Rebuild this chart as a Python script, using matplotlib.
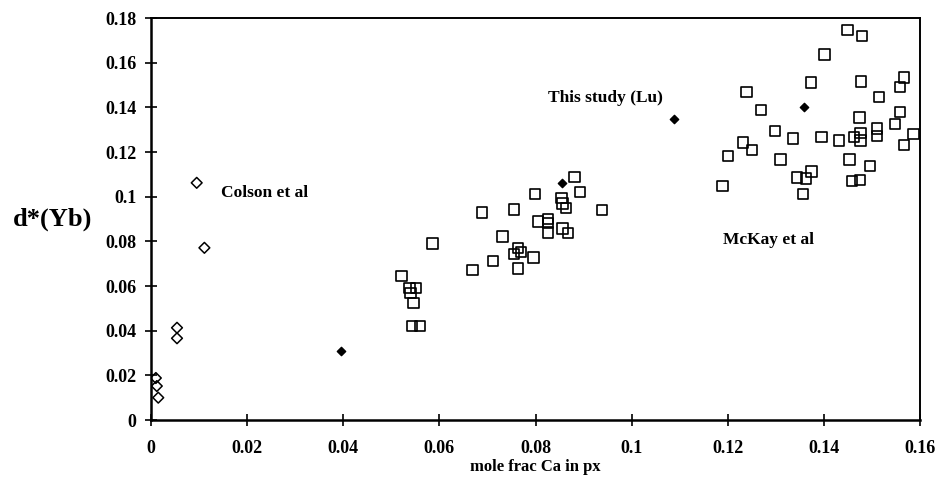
import matplotlib
matplotlib.use("Agg")
import matplotlib.pyplot as plt

# Colson et al (open diamonds)
colson_x = [0.0010, 0.0012, 0.0015, 0.0054, 0.0054, 0.0111, 0.0095]
colson_y = [0.0188, 0.0152, 0.0100, 0.0413, 0.0366, 0.0771, 0.1062]

# This study (Lu) (filled diamonds)
lu_x = [0.0396, 0.0856, 0.1088, 0.1359]
lu_y = [0.0309, 0.1062, 0.1346, 0.1400]

# McKay et al (open squares)
mckay_x = [0.0881, 0.0892, 0.0799, 0.0854, 0.0856, 0.0864, 0.0938, 0.0755,
           0.0688, 0.0805, 0.0826, 0.0826, 0.0826, 0.0856, 0.0868, 0.0731,
           0.0586, 0.0763, 0.0755, 0.0770, 0.0796, 0.0712, 0.0764, 0.0669,
           0.0521, 0.0538, 0.0551, 0.0540, 0.0546, 0.0543, 0.0560,
           0.1449, 0.1479, 0.1401, 0.1373, 0.1477, 0.1567, 0.1558, 0.1239,
           0.1515, 0.1269, 0.1558, 0.1474, 0.1298, 0.1336, 0.1395, 0.1432,
           0.1462, 0.1476, 0.1476, 0.1510, 0.1510, 0.1548, 0.1586, 0.1567,
           0.1232, 0.1251, 0.1201, 0.1310, 0.1453, 0.1496, 0.1374, 0.1344,
           0.1363, 0.1458, 0.1475, 0.1189, 0.1357]
mckay_y = [0.1089, 0.1022, 0.1012, 0.0993, 0.0970, 0.0948, 0.0940, 0.0943,
           0.0930, 0.0888, 0.0899, 0.0881, 0.0840, 0.0858, 0.0836, 0.0821,
           0.0791, 0.0769, 0.0743, 0.0751, 0.0728, 0.0712, 0.0679, 0.0672,
           0.0645, 0.0590, 0.0592, 0.0570, 0.0523, 0.0421, 0.0421,
           0.1746, 0.1719, 0.1637, 0.1512, 0.1515, 0.1533, 0.1492, 0.1470,
           0.1445, 0.1388, 0.1380, 0.1355, 0.1294, 0.1261, 0.1266, 0.1251,
           0.1268, 0.1284, 0.1251, 0.1306, 0.1272, 0.1325, 0.1281, 0.1231,
           0.1243, 0.1209, 0.1182, 0.1167, 0.1167, 0.1137, 0.1112, 0.1085,
           0.1082, 0.1070, 0.1075, 0.1049, 0.1012]

xticks = [0, 0.02, 0.04, 0.06, 0.08, 0.1, 0.12, 0.14, 0.16]
xtick_labels = ["0", "0.02", "0.04", "0.06", "0.08", "0.1", "0.12", "0.14", "0.16"]
yticks = [0, 0.02, 0.04, 0.06, 0.08, 0.1, 0.12, 0.14, 0.16, 0.18]
ytick_labels = ["0", "0.02", "0.04", "0.06", "0.08", "0.1", "0.12", "0.14", "0.16", "0.18"]

plt.rcParams["font.family"] = ["Liberation Serif", "DejaVu Serif"]
plt.rcParams["font.weight"] = "bold"

fig = plt.figure(figsize=(9.37, 4.91), dpi=100)
ax = fig.add_axes([0.1612, 0.1446, 0.8207, 0.8187])

ax.scatter(mckay_x, mckay_y, marker="s", s=56, facecolors="none",
           edgecolors="black", linewidths=1.2, zorder=3)
ax.scatter(colson_x, colson_y, marker="D", s=30, facecolors="none",
           edgecolors="black", linewidths=1.1, zorder=3)
ax.scatter(lu_x, lu_y, marker="D", s=18, color="black", zorder=4)

ax.text(0.0146, 0.1016, "Colson et al", fontsize=12.5, fontweight="bold",
        va="center", ha="left")
ax.text(0.0825, 0.1442, "This study (Lu)", fontsize=12.5, fontweight="bold",
        va="center", ha="left")
ax.text(0.1190, 0.0806, "McKay et al", fontsize=12.5, fontweight="bold",
        va="center", ha="left")

ax.set_xlim(0, 0.16)
ax.set_ylim(0, 0.18)
ax.set_xticks(xticks)
ax.set_xticklabels(xtick_labels)
ax.set_yticks(yticks)
ax.set_yticklabels(ytick_labels)
ax.tick_params(direction="inout", length=9, width=1.2, labelsize=13)
ax.tick_params(axis="x", pad=10)
ax.tick_params(axis="y", pad=6)
for lab in ax.get_xticklabels() + ax.get_yticklabels():
    lab.set_fontweight("bold")

for side in ["left", "bottom"]:
    ax.spines[side].set_linewidth(1.8)
for side in ["top", "right"]:
    ax.spines[side].set_linewidth(1.4)

ax.set_xlabel("mole frac Ca in px", fontsize=12, fontweight="bold", labelpad=1)
ax.set_ylabel("d*(Yb)", fontsize=19, fontweight="bold", rotation=0,
              va="center", ha="center")
ax.yaxis.set_label_coords(-0.1286, 0.5)

fig.savefig("out.png", dpi=100)
